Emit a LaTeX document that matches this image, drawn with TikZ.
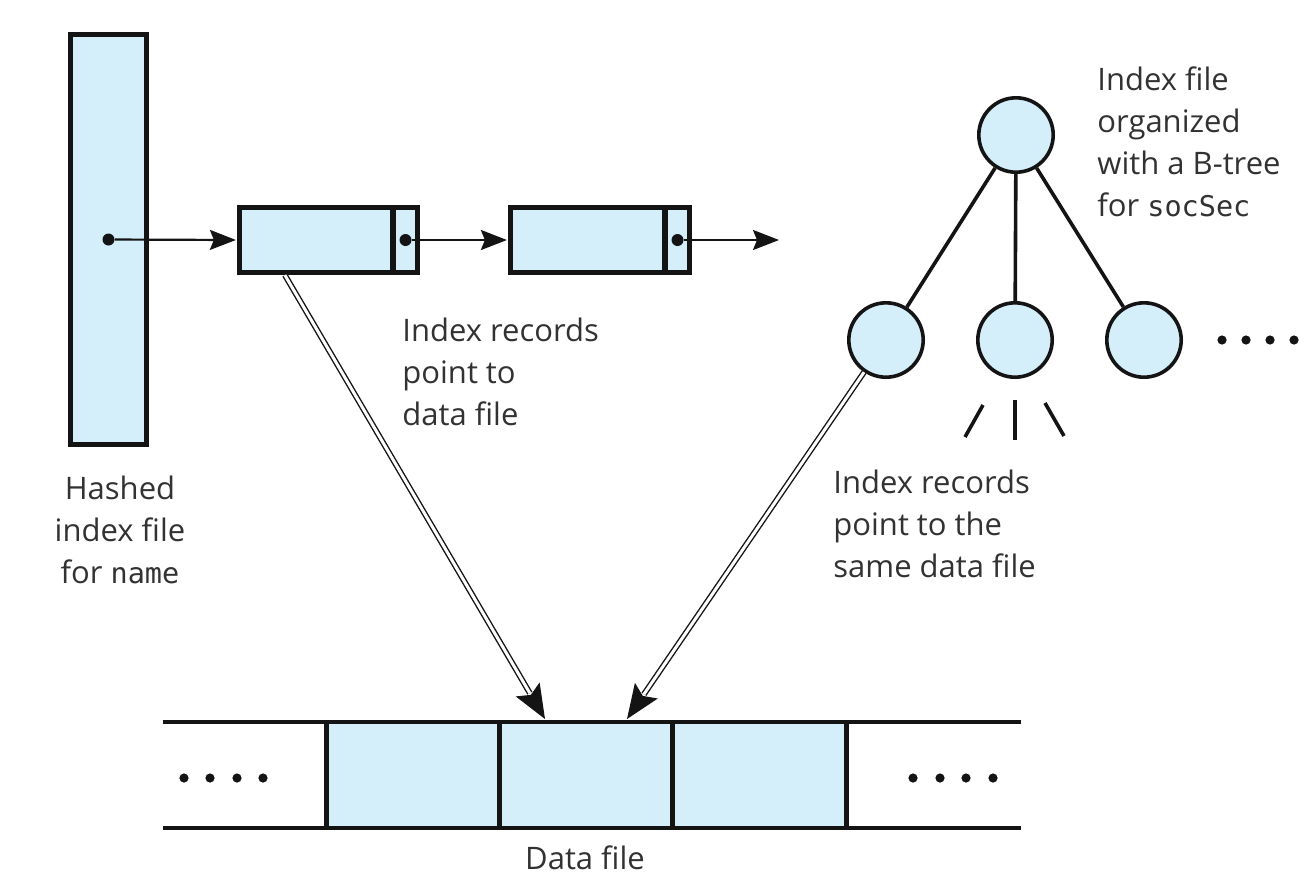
\documentclass[tikz,border=0pt]{standalone}
\usepackage{fontspec}
\setmainfont{Open Sans}
\setmonofont{DejaVu Sans Mono}[Scale=0.92]
\usetikzlibrary{calc,arrows.meta}
\definecolor{cellblue}{RGB}{212,239,250}
\definecolor{ink}{RGB}{20,20,20}
\definecolor{txt}{RGB}{50,50,50}

\begin{document}
\begin{tikzpicture}[x=0.5pt,y=-0.5pt,
  box/.style={draw=ink, fill=cellblue, line width=2.6pt, inner sep=0pt},
  knot/.style={circle, draw=ink, fill=cellblue, line width=1.8pt, minimum size=37.2pt, inner sep=0pt},
  edge/.style={draw=ink, line width=1.8pt},
  ptr/.style={draw=ink, line width=1.1pt, shorten >=0.5pt, -{Stealth[length=13pt,width=10pt,inset=2pt]}},
  pdot/.style={fill=ink, circle, inner sep=0pt, minimum size=6pt},
  sdot/.style={fill=ink, circle, inner sep=0pt, minimum size=4.6pt},
  cell/.style={fill=cellblue, inner sep=0pt, minimum width=86.5pt, minimum height=53pt},
  dbl/.style={draw=ink, double=white, double distance=1.5pt, line width=0.7pt},
  lbl/.style={font=\fontsize{15.5}{21}\selectfont, text=txt, align=left, inner sep=0pt},
]
\useasboundingbox (0,0) rectangle (1304,874);

% hashed index file and its chain of index records
\node[box, minimum width=38pt, minimum height=205pt] (hash) at (108.5,239.5) {};
\node[box, minimum width=76.5pt, minimum height=32.5pt] (rec1) at (316,240) {};
\node[box, minimum width=12pt, minimum height=32.5pt] (rec1p) at (405.5,240) {};
\node[box, minimum width=77pt, minimum height=32.5pt] (rec2) at (587.5,240) {};
\node[box, minimum width=12pt, minimum height=32.5pt] (rec2p) at (677.5,240) {};
\node[pdot] (h0) at (hash.center) {};
\node[pdot] (p1) at (rec1p.center) {};
\node[pdot] (p2) at (rec2p.center) {};
\coordinate (tail) at (780,240);
\draw[ptr] (h0) -- (rec1.west);
\draw[ptr] (p1) -- (rec2.west);
\draw[ptr] (p2) -- (tail);

% B-tree index
\node[knot] (root) at (1016,135) {};
\node[knot] (c1) at (886,340) {};
\node[knot] (c2) at (1015,340) {};
\node[knot] (c3) at (1144,340) {};
\draw[edge] (root) -- (c1);
\draw[edge] (root) -- (c2);
\draw[edge] (root) -- (c3);
\draw[edge] (983,405) -- (965,437);
\draw[edge] (1015,400) -- (1015,440);
\draw[edge] (1045,403) -- (1064,436);
\foreach \x [count=\i] in {1222,1246,1270,1294} \node[sdot] (td\i) at (\x,340) {};

% data file
\node[cell] (d1) at (413.5,775) {};
\node[cell] (d2) at (586.5,775) {};
\node[cell] (d3) at (759.5,775) {};
\draw[draw=ink, line width=2.3pt] (d1.north west) -- (d1.south west);
\draw[draw=ink, line width=2.3pt] (d2.north west) -- (d2.south west);
\draw[draw=ink, line width=2.3pt] (d3.north west) -- (d3.south west);
\draw[draw=ink, line width=2.3pt] (d3.north east) -- (d3.south east);
\draw[edge] (163,722) -- (1021,722);
\draw[edge] (163,828) -- (1021,828);
\foreach \x [count=\i] in {184,210,237,263} \node[sdot] (dl\i) at (\x,778) {};
\foreach \x [count=\i] in {913,940,966,993} \node[sdot] (dr\i) at (\x,778) {};

% index records pointing into the data file
\coordinate (s1) at ($(rec1.south west)+(24pt,0)$);
\coordinate (e1) at (545,719);
\coordinate (e2) at (627,719);
\coordinate (s2) at ($(c1)!19.5pt!(e2)$);
\draw[dbl] (s1) -- ($(e1)!15pt!(s1)$);
\fill[ink] (e1) -- ($(e1)!18.5pt!22:(s1)$) -- ($(e1)!14pt!(s1)$) -- ($(e1)!18.5pt!-22:(s1)$) -- cycle;
\draw[dbl] (s2) -- ($(e2)!15pt!(s2)$);
\fill[ink] (e2) -- ($(e2)!18.5pt!22:(s2)$) -- ($(e2)!14pt!(s2)$) -- ($(e2)!18.5pt!-22:(s2)$) -- cycle;

% labels
\node[lbl, anchor=north west] (t1) at (402,318) {Index records\\point to\\data file};
\node[lbl, anchor=north, align=center] (t2) at (120,476) {Hashed\\index file\\for \texttt{name}};
\node[lbl, anchor=north west] (t3) at (1097,66) {Index file\\organized\\with a B-tree\\for \texttt{socSec}};
\node[lbl, anchor=north west] (t4) at (833,470) {Index records\\point to the\\same data file};
\node[lbl, anchor=north] (t5) at (585,845) {Data file};
\end{tikzpicture}
\end{document}
